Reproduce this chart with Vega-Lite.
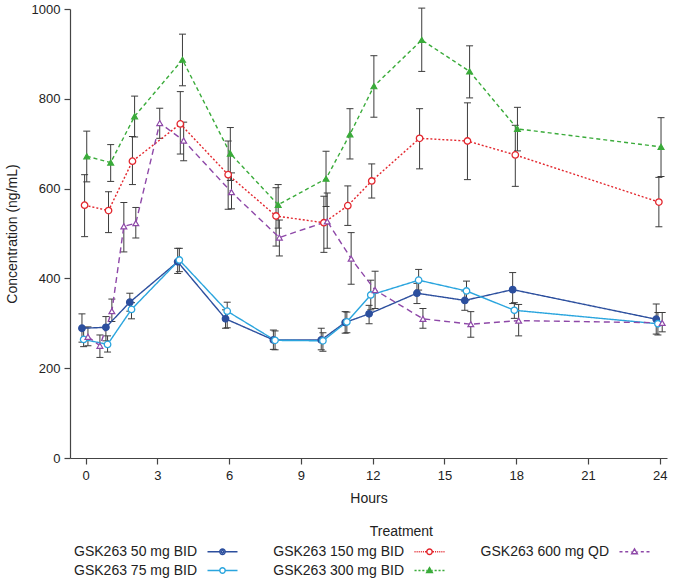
{
  "$schema": "https://vega.github.io/schema/vega-lite/v6.json",
  "width": 597,
  "height": 449,
  "autosize": {"type": "none"},
  "padding": {"left": 70, "top": 9, "right": 8, "bottom": 125},
  "background": "white",
  "config": {
    "view": {"stroke": null},
    "font": "Liberation Sans",
    "axis": {"domainColor": "#444", "tickColor": "#444", "labelColor": "#222", "titleColor": "#222", "labelFont": "Liberation Sans", "titleFont": "Liberation Sans", "labelFontSize": 13, "titleFontSize": 14, "titleFontWeight": "normal", "grid": false, "tickSize": 6, "domainWidth": 1.2, "tickWidth": 1.2},
    "legend": {"labelFont": "Liberation Sans", "titleFont": "Liberation Sans", "labelFontSize": 14, "titleFontSize": 14, "titleFontWeight": "normal", "labelColor": "#222", "titleColor": "#222"}
  },
  "data": {"values": [
    {"treatment": "GSK263 50 mg BID", "hours": -0.15, "conc": 289, "lower": 258, "upper": 321},
    {"treatment": "GSK263 50 mg BID", "hours": 0.85, "conc": 291, "lower": 261, "upper": 315},
    {"treatment": "GSK263 50 mg BID", "hours": 1.85, "conc": 347, "lower": 327, "upper": 367},
    {"treatment": "GSK263 50 mg BID", "hours": 3.85, "conc": 437, "lower": 411, "upper": 467},
    {"treatment": "GSK263 50 mg BID", "hours": 5.85, "conc": 310, "lower": 289, "upper": 330},
    {"treatment": "GSK263 50 mg BID", "hours": 7.85, "conc": 263, "lower": 242, "upper": 285},
    {"treatment": "GSK263 50 mg BID", "hours": 9.85, "conc": 263, "lower": 241, "upper": 289},
    {"treatment": "GSK263 50 mg BID", "hours": 10.85, "conc": 302, "lower": 278, "upper": 326},
    {"treatment": "GSK263 50 mg BID", "hours": 11.85, "conc": 321, "lower": 299, "upper": 340},
    {"treatment": "GSK263 50 mg BID", "hours": 13.85, "conc": 367, "lower": 344, "upper": 389},
    {"treatment": "GSK263 50 mg BID", "hours": 15.85, "conc": 351, "lower": 329, "upper": 372},
    {"treatment": "GSK263 50 mg BID", "hours": 17.85, "conc": 375, "lower": 344, "upper": 413},
    {"treatment": "GSK263 50 mg BID", "hours": 23.85, "conc": 309, "lower": 276, "upper": 343},
    {"treatment": "GSK263 75 mg BID", "hours": -0.08, "conc": 264, "lower": 248, "upper": 290},
    {"treatment": "GSK263 75 mg BID", "hours": 0.92, "conc": 253, "lower": 236, "upper": 272},
    {"treatment": "GSK263 75 mg BID", "hours": 1.92, "conc": 331, "lower": 310, "upper": 346},
    {"treatment": "GSK263 75 mg BID", "hours": 3.92, "conc": 441, "lower": 415, "upper": 467},
    {"treatment": "GSK263 75 mg BID", "hours": 5.92, "conc": 327, "lower": 290, "upper": 347},
    {"treatment": "GSK263 75 mg BID", "hours": 7.92, "conc": 262, "lower": 241, "upper": 283},
    {"treatment": "GSK263 75 mg BID", "hours": 9.92, "conc": 261, "lower": 238, "upper": 279},
    {"treatment": "GSK263 75 mg BID", "hours": 10.92, "conc": 303, "lower": 279, "upper": 325},
    {"treatment": "GSK263 75 mg BID", "hours": 11.92, "conc": 363, "lower": 330, "upper": 396},
    {"treatment": "GSK263 75 mg BID", "hours": 13.92, "conc": 396, "lower": 374, "upper": 420},
    {"treatment": "GSK263 75 mg BID", "hours": 15.92, "conc": 372, "lower": 352, "upper": 394},
    {"treatment": "GSK263 75 mg BID", "hours": 17.92, "conc": 329, "lower": 311, "upper": 346},
    {"treatment": "GSK263 75 mg BID", "hours": 23.92, "conc": 299, "lower": 274, "upper": 324},
    {"treatment": "GSK263 150 mg BID", "hours": -0.04, "conc": 563, "lower": 493, "upper": 631},
    {"treatment": "GSK263 150 mg BID", "hours": 0.96, "conc": 551, "lower": 502, "upper": 593},
    {"treatment": "GSK263 150 mg BID", "hours": 1.96, "conc": 661, "lower": 609, "upper": 716},
    {"treatment": "GSK263 150 mg BID", "hours": 3.96, "conc": 744, "lower": 677, "upper": 816},
    {"treatment": "GSK263 150 mg BID", "hours": 5.96, "conc": 631, "lower": 554, "upper": 706},
    {"treatment": "GSK263 150 mg BID", "hours": 7.96, "conc": 539, "lower": 472, "upper": 602},
    {"treatment": "GSK263 150 mg BID", "hours": 9.96, "conc": 524, "lower": 458, "upper": 583},
    {"treatment": "GSK263 150 mg BID", "hours": 10.96, "conc": 562, "lower": 518, "upper": 606},
    {"treatment": "GSK263 150 mg BID", "hours": 11.96, "conc": 617, "lower": 579, "upper": 655},
    {"treatment": "GSK263 150 mg BID", "hours": 13.96, "conc": 712, "lower": 644, "upper": 778},
    {"treatment": "GSK263 150 mg BID", "hours": 15.96, "conc": 706, "lower": 620, "upper": 791},
    {"treatment": "GSK263 150 mg BID", "hours": 17.96, "conc": 675, "lower": 605, "upper": 741},
    {"treatment": "GSK263 150 mg BID", "hours": 23.96, "conc": 570, "lower": 515, "upper": 625},
    {"treatment": "GSK263 300 mg BID", "hours": 0.05, "conc": 672, "lower": 615, "upper": 728},
    {"treatment": "GSK263 300 mg BID", "hours": 1.05, "conc": 658, "lower": 616, "upper": 698},
    {"treatment": "GSK263 300 mg BID", "hours": 2.05, "conc": 761, "lower": 715, "upper": 806},
    {"treatment": "GSK263 300 mg BID", "hours": 4.05, "conc": 887, "lower": 829, "upper": 944},
    {"treatment": "GSK263 300 mg BID", "hours": 6.05, "conc": 678, "lower": 618, "upper": 736},
    {"treatment": "GSK263 300 mg BID", "hours": 8.05, "conc": 564, "lower": 512, "upper": 609},
    {"treatment": "GSK263 300 mg BID", "hours": 10.05, "conc": 622, "lower": 560, "upper": 683},
    {"treatment": "GSK263 300 mg BID", "hours": 11.05, "conc": 721, "lower": 666, "upper": 778},
    {"treatment": "GSK263 300 mg BID", "hours": 12.05, "conc": 828, "lower": 759, "upper": 896},
    {"treatment": "GSK263 300 mg BID", "hours": 14.05, "conc": 931, "lower": 861, "upper": 1002},
    {"treatment": "GSK263 300 mg BID", "hours": 16.05, "conc": 861, "lower": 802, "upper": 918},
    {"treatment": "GSK263 300 mg BID", "hours": 18.05, "conc": 733, "lower": 684, "upper": 781},
    {"treatment": "GSK263 300 mg BID", "hours": 24.05, "conc": 693, "lower": 627, "upper": 758},
    {"treatment": "GSK263 600 mg QD", "hours": 0.1, "conc": 270, "lower": 250, "upper": 292},
    {"treatment": "GSK263 600 mg QD", "hours": 0.6, "conc": 250, "lower": 224, "upper": 274},
    {"treatment": "GSK263 600 mg QD", "hours": 1.1, "conc": 327, "lower": 304, "upper": 354},
    {"treatment": "GSK263 600 mg QD", "hours": 1.6, "conc": 516, "lower": 459, "upper": 569},
    {"treatment": "GSK263 600 mg QD", "hours": 2.1, "conc": 523, "lower": 490, "upper": 558},
    {"treatment": "GSK263 600 mg QD", "hours": 3.1, "conc": 746, "lower": 712, "upper": 779},
    {"treatment": "GSK263 600 mg QD", "hours": 4.1, "conc": 707, "lower": 662, "upper": 748},
    {"treatment": "GSK263 600 mg QD", "hours": 6.1, "conc": 592, "lower": 555, "upper": 635},
    {"treatment": "GSK263 600 mg QD", "hours": 8.1, "conc": 491, "lower": 450, "upper": 530},
    {"treatment": "GSK263 600 mg QD", "hours": 10.1, "conc": 527, "lower": 467, "upper": 590},
    {"treatment": "GSK263 600 mg QD", "hours": 11.1, "conc": 444, "lower": 387, "upper": 502},
    {"treatment": "GSK263 600 mg QD", "hours": 12.1, "conc": 374, "lower": 333, "upper": 416},
    {"treatment": "GSK263 600 mg QD", "hours": 14.1, "conc": 310, "lower": 289, "upper": 333},
    {"treatment": "GSK263 600 mg QD", "hours": 16.1, "conc": 298, "lower": 269, "upper": 326},
    {"treatment": "GSK263 600 mg QD", "hours": 18.1, "conc": 306, "lower": 272, "upper": 342},
    {"treatment": "GSK263 600 mg QD", "hours": 24.1, "conc": 301, "lower": 281, "upper": 324}
  ]},
  "encoding": {
    "x": {"field": "hours", "type": "quantitative", "title": "Hours",
      "scale": {"domain": [-0.65, 24.3], "nice": false, "zero": false},
      "axis": {"values": [0, 3, 6, 9, 12, 15, 18, 21, 24], "labelPadding": 5, "titlePadding": 9}},
    "y": {"field": "conc", "type": "quantitative", "title": "Concentration (ng/mL)",
      "scale": {"domain": [0, 1000], "nice": false},
      "axis": {"values": [0, 200, 400, 600, 800, 1000], "format": "d", "labelPadding": 4, "titlePadding": 12}}
  },
  "layer": [
    {"mark": {"type": "rule", "color": "#3c3c3c", "strokeWidth": 1},
     "encoding": {"y": {"field": "lower", "type": "quantitative"}, "y2": {"field": "upper"}}},
    {"mark": {"type": "tick", "orient": "horizontal", "color": "#3c3c3c", "size": 7, "thickness": 1, "opacity": 1},
     "encoding": {"y": {"field": "lower", "type": "quantitative"}}},
    {"mark": {"type": "tick", "orient": "horizontal", "color": "#3c3c3c", "size": 7, "thickness": 1, "opacity": 1},
     "encoding": {"y": {"field": "upper", "type": "quantitative"}}},
    {"mark": {"type": "line", "strokeWidth": 1.4},
     "encoding": {
       "color": {"field": "treatment", "type": "nominal", "legend": null,
         "scale": {"domain": ["GSK263 50 mg BID", "GSK263 75 mg BID", "GSK263 150 mg BID", "GSK263 300 mg BID", "GSK263 600 mg QD"],
                   "range": ["#2c4f9e", "#2aa5de", "#e3262d", "#3aab3a", "#8e48a8"]}},
       "strokeDash": {"field": "treatment", "type": "nominal", "legend": null,
         "scale": {"domain": ["GSK263 50 mg BID", "GSK263 75 mg BID", "GSK263 150 mg BID", "GSK263 300 mg BID", "GSK263 600 mg QD"],
                   "range": [[1, 0], [1, 0], [2, 2], [4, 3], [6, 4]]}}
     }},
    {"transform": [{"filter": {"field": "treatment", "oneOf": ["GSK263 50 mg BID", "GSK263 75 mg BID", "GSK263 150 mg BID"]}}],
     "mark": {"type": "point", "shape": "circle", "size": 42, "strokeWidth": 1.3, "opacity": 1},
     "encoding": {
       "color": {"field": "treatment", "type": "nominal", "legend": null,
         "scale": {"domain": ["GSK263 50 mg BID", "GSK263 75 mg BID", "GSK263 150 mg BID", "GSK263 300 mg BID", "GSK263 600 mg QD"],
                   "range": ["#2c4f9e", "#2aa5de", "#e3262d", "#3aab3a", "#8e48a8"]}},
       "fill": {"field": "treatment", "type": "nominal", "legend": null,
         "scale": {"domain": ["GSK263 50 mg BID", "GSK263 75 mg BID", "GSK263 150 mg BID", "GSK263 300 mg BID", "GSK263 600 mg QD"],
                   "range": ["#2c4f9e", "#ffffff", "#ffffff", "#3aab3a", "#ffffff"]}}
     }},
    {"transform": [{"filter": {"field": "treatment", "oneOf": ["GSK263 300 mg BID", "GSK263 600 mg QD"]}}],
     "mark": {"type": "point", "shape": "triangle-up", "size": 34, "strokeWidth": 1.2, "opacity": 1},
     "encoding": {
       "color": {"field": "treatment", "type": "nominal", "legend": null,
         "scale": {"domain": ["GSK263 50 mg BID", "GSK263 75 mg BID", "GSK263 150 mg BID", "GSK263 300 mg BID", "GSK263 600 mg QD"],
                   "range": ["#2c4f9e", "#2aa5de", "#e3262d", "#3aab3a", "#8e48a8"]}},
       "fill": {"field": "treatment", "type": "nominal", "legend": null,
         "scale": {"domain": ["GSK263 50 mg BID", "GSK263 75 mg BID", "GSK263 150 mg BID", "GSK263 300 mg BID", "GSK263 600 mg QD"],
                   "range": ["#2c4f9e", "#ffffff", "#ffffff", "#3aab3a", "#ffffff"]}}
     }},
    {"transform": [{"filter": "false"}],
     "mark": {"type": "point", "opacity": 1, "strokeWidth": 1.5},
     "encoding": {
       "shape": {"field": "treatment", "type": "nominal",
         "scale": {"domain": ["GSK263 50 mg BID", "GSK263 150 mg BID", "GSK263 600 mg QD", "GSK263 75 mg BID", "GSK263 300 mg BID"],
           "range": [
             "M-2,0H-0.36M0.36,0H2M0.36,0A0.36,0.36,0,1,1,-0.36,0A0.36,0.36,0,1,1,0.36,0M0.16,0A0.16,0.16,0,1,1,-0.16,0A0.16,0.16,0,1,1,0.16,0",
             "M-2,0H-1.86M-1.72,0H-1.58M-1.44,0H-1.3M-1.16,0H-1.02M-0.88,0H-0.74M-0.6,0H-0.4M0.4,0H0.6M0.74,0H0.88M1.02,0H1.16M1.3,0H1.44M1.58,0H1.72M1.86,0H2M0.36,0A0.36,0.36,0,1,1,-0.36,0A0.36,0.36,0,1,1,0.36,0",
             "M-2,0H-1.6M-1.24,0H-0.84M-0.48,0H-0.4M0.4,0H0.48M0.84,0H1.24M1.6,0H2M0,-0.38L0.38,0.26L-0.38,0.26Z",
             "M-2,0H-0.36M0.36,0H2M0.36,0A0.36,0.36,0,1,1,-0.36,0A0.36,0.36,0,1,1,0.36,0",
             "M-2,0H-1.72M-1.48,0H-1.2M-0.96,0H-0.68M-0.44,0H-0.36M0.36,0H0.44M0.68,0H0.96M1.2,0H1.48M1.72,0H2M0,-0.38L0.38,0.26L-0.38,0.26ZM0,-0.12L0.12,0.1L-0.12,0.1Z"
           ]},
         "legend": {"title": "Treatment\u00a0\u00a0\u00a0\u00a0\u00a0\u00a0", "orient": "none", "legendX": 144, "legendY": 516, "direction": "horizontal", "columns": 3, "columnPadding": 32, "rowPadding": 3, "labelAlign": "right", "labelOffset": -34, "symbolSize": 225, "symbolStrokeWidth": 1.4, "titleAnchor": "middle", "titleAlign": "right", "titlePadding": 4}},
       "stroke": {"field": "treatment", "type": "nominal",
         "scale": {"domain": ["GSK263 50 mg BID", "GSK263 150 mg BID", "GSK263 600 mg QD", "GSK263 75 mg BID", "GSK263 300 mg BID"],
                   "range": ["#2c4f9e", "#e3262d", "#8e48a8", "#2aa5de", "#3aab3a"]},
         "legend": {"title": "Treatment\u00a0\u00a0\u00a0\u00a0\u00a0\u00a0", "orient": "none", "legendX": 144, "legendY": 516, "direction": "horizontal", "columns": 3, "columnPadding": 32, "rowPadding": 3, "labelAlign": "right", "labelOffset": -34, "symbolSize": 225, "symbolStrokeWidth": 1.4, "titleAnchor": "middle", "titleAlign": "right", "titlePadding": 4}}
     }}
  ]
}
